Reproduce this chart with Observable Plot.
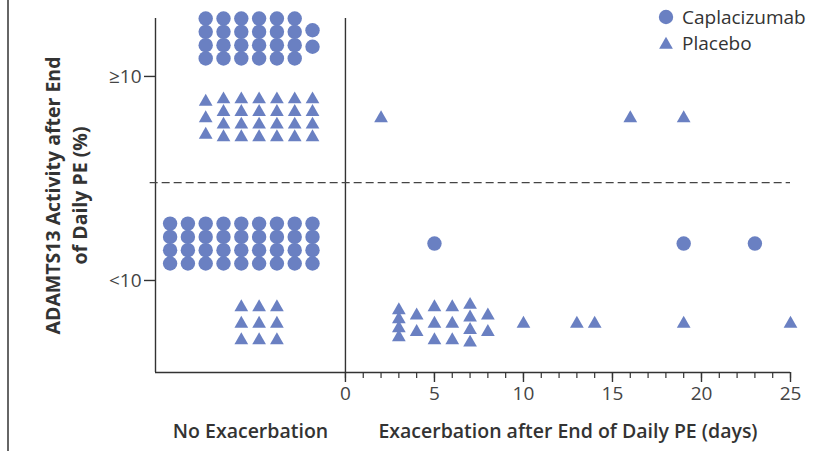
<!DOCTYPE html>
<html>
<head>
<meta charset="utf-8">
<script src="https://cdn.jsdelivr.net/npm/d3@7"></script>
<script src="https://cdn.jsdelivr.net/npm/@observablehq/plot@0.6"></script>
<style>
  body { margin: 0; background: #fff; }
  #wrap { position: relative; width: 838px; height: 451px; overflow: hidden; font-family: "Open Sans", sans-serif; }
  #edge { position: absolute; left: 7px; top: 0; width: 2px; height: 451px; background: #666; }
  #legend { position: absolute; left: 657px; top: 4px; font-size: 19px; color: #333; }
  #legend .row { display: flex; align-items: center; height: 26px; }
  #legend svg { width: 18px; height: 18px; margin-right: 7px; }
</style>
</head>
<body>
<div id="wrap">
  <div id="edge"></div>
  <div id="chart"></div>
  <div id="legend"></div>
</div>
<script>
// ---------- data ----------
const groups = ["Caplacizumab", "Placebo"];
const groupSymbols = ["circle", "triangle"];
const yTickValues = [0, 1];
const yTickLabels = ["<10", "≥10"];
const xTickMajor = [0, 5, 10, 15, 20, 25];
const xTickMinor = d3.range(0, 26);
const yTitle = "ADAMTS13 Activity after End\nof Daily PE (%)";
const xLabels = ["No Exacerbation", "Exacerbation after End of Daily PE (days)"];

// No exacerbation: number of patients in each column, column 0 is nearest the divider
const capNoExacHighCols = [2, 4, 4, 4, 4, 4, 4];
const plaNoExacHighCols = [4, 4, 4, 4, 4, 4, 3];
const capNoExacLowCols  = [4, 4, 4, 4, 4, 4, 4, 4, 4];
const plaNoExacLowCols  = [0, 0, 3, 3, 3];

// Exacerbation: day of exacerbation for each patient
const capExacHighDays = [];
const plaExacHighDays = [2, 16, 19];
const capExacLowDays  = [5, 19, 23];
const plaExacLowDays  = [3, 3, 3, 3, 4, 4, 5, 5, 5, 6, 6, 6, 7, 7, 7, 7, 8, 8, 10, 13, 14, 19, 25];

// ---------- layout ----------
const W = 838, H = 451;
const mL = 155, mR = 48, mT = 18, mB = 79;
const X_MIN = -10.67, X_MAX = 25;
const Y_MIN = -0.451, Y_MAX = 1.284;
const pxPerY = (H - mT - mB) / (Y_MAX - Y_MIN);
const thresholdY = 0.48;
const COL0 = -1.85;           // x of the column nearest the divider (one column per day-width)
const color = "#6a80c2";
const rCircle = 7.2, rTriangle = 5.1;
const bandCenter = {          // y centres of the sub-bands
  "Caplacizumab": {1: 1.186, 0: 0.181},
  "Placebo":      {1: 0.795, 0: -0.212}
};
function spacingPx(group, n, day) {
  if (day === 3) return 9;
  if (n >= 4) return group === "Caplacizumab" ? 13.3 : 12.6;
  return 16.5;
}
const points = [];
function stack(group, level, x, n, day) {
  const c = bandCenter[group][level];
  const s = spacingPx(group, n, day) / pxPerY;
  for (let i = 0; i < n; i++) points.push({group, x, y: c + ((n - 1) / 2 - i) * s});
}
function addCols(group, level, cols) { cols.forEach((n, k) => stack(group, level, COL0 - k, n, null)); }
function addDays(group, level, days) {
  d3.rollups(days, v => v.length, d => d).forEach(([day, n]) => stack(group, level, day, n, day));
}
addCols("Caplacizumab", 1, capNoExacHighCols);
addCols("Placebo", 1, plaNoExacHighCols);
addCols("Caplacizumab", 0, capNoExacLowCols);
addCols("Placebo", 0, plaNoExacLowCols);
addDays("Caplacizumab", 1, capExacHighDays);
addDays("Placebo", 1, plaExacHighDays);
addDays("Caplacizumab", 0, capExacLowDays);
addDays("Placebo", 0, plaExacLowDays);

const axisColor = "#333";
const chart = Plot.plot({
  width: W, height: H,
  marginLeft: mL, marginRight: mR, marginTop: mT, marginBottom: mB,
  x: {domain: [X_MIN, X_MAX]},
  y: {domain: [Y_MIN, Y_MAX]},
  style: {fontFamily: "'Open Sans', sans-serif", color: axisColor, background: "transparent", overflow: "visible"},
  marks: [
    Plot.ruleX([X_MIN], {stroke: axisColor, strokeWidth: 1.4}),
    Plot.ruleY([Y_MIN], {x1: X_MIN, x2: X_MAX, stroke: axisColor, strokeWidth: 1.4}),
    Plot.ruleX([0], {y1: Y_MIN, y2: Y_MAX, stroke: axisColor, strokeWidth: 1.4}),
    Plot.ruleY([thresholdY], {x1: X_MIN - 0.3, x2: X_MAX, stroke: "#444", strokeWidth: 1.3, strokeDasharray: "8,4"}),
    Plot.axisX({ticks: xTickMinor, tickSize: 6, tickFormat: () => "", stroke: axisColor, strokeWidth: 1.2, label: null}),
    Plot.axisX({ticks: xTickMajor, tickSize: 10, tickPadding: 4, fontSize: 19, stroke: axisColor, strokeWidth: 1.4, fill: "#444", label: null}),
    Plot.axisY({ticks: yTickValues, tickSize: 11, tickPadding: 3, fontSize: 19,
      tickFormat: d => yTickLabels[yTickValues.indexOf(d)], stroke: axisColor, strokeWidth: 1.4, fill: "#444", label: null}),
    Plot.dot(points.filter(d => d.group === groups[0]), {x: "x", y: "y", r: rCircle, symbol: groupSymbols[0], fill: color}),
    Plot.dot(points.filter(d => d.group === groups[1]), {x: "x", y: "y", r: rTriangle, symbol: groupSymbols[1], fill: color}),
    Plot.text([yTitle], {frameAnchor: "left", dx: -91, rotate: -90, fontSize: 19.5, fontWeight: "bold",
      lineHeight: 1.4, fill: "#333", textAnchor: "middle"}),
    Plot.text(xLabels, {x: [(X_MIN + 0) / 2, (0 + X_MAX) / 2], frameAnchor: "bottom", dy: 65,
      fontSize: 19.5, fontWeight: 600, fill: "#333"})
  ]
});
document.getElementById("chart").appendChild(chart);

// ---------- legend ----------
const legend = document.getElementById("legend");
groups.forEach((g, i) => {
  const row = document.createElement("div");
  row.className = "row";
  const sym = d3.symbol(i === 0 ? d3.symbolCircle : d3.symbolTriangle, Math.PI * (i === 0 ? rCircle : rTriangle) ** 2)();
  row.innerHTML = `<svg viewBox="-9 -9 18 18"><path d="${sym}" transform="translate(0,${i === 0 ? 0 : 1.8})" fill="${color}"/></svg><span>${g}</span>`;
  legend.appendChild(row);
});
</script>
</body>
</html>
